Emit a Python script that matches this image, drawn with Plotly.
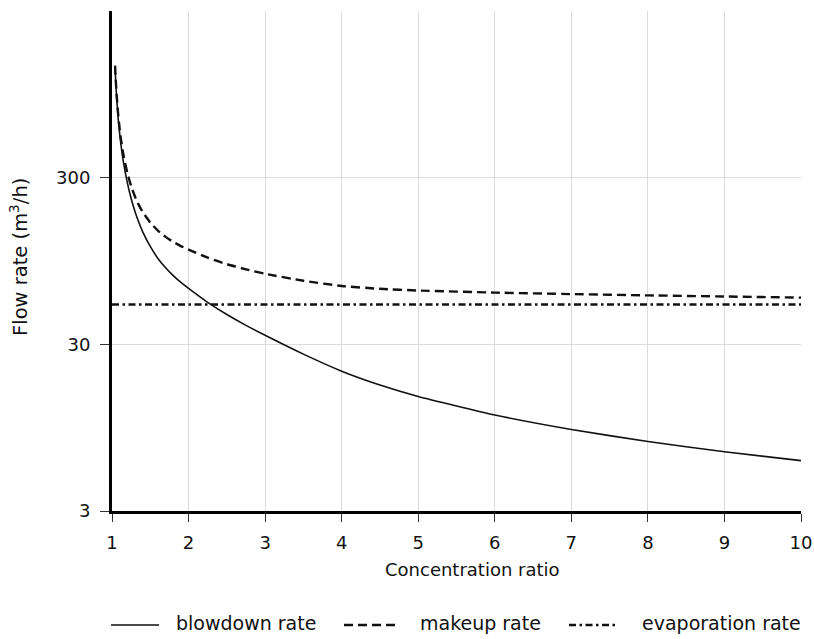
import plotly.graph_objects as go

# Cooling-tower water balance vs. cycles of concentration
conc_ratio = [1.04, 1.05, 1.06, 1.08, 1.1, 1.12, 1.15, 1.2, 1.25, 1.3, 1.35, 1.4,
              1.5, 1.6, 1.7, 1.8, 1.9, 2.0, 2.25, 2.5, 2.75, 3.0, 3.5, 4.0,
              4.5, 5.0, 6.0, 7.0, 8.0, 9.0, 10.0]
blowdown = [1375, 1100, 917, 688, 550, 460, 370, 280, 225, 188, 162, 142.5,
            116, 98.3, 86.4, 77.5, 70.6, 65, 53.6, 45.3, 39, 34, 26.2, 20.7,
            17.1, 14.6, 11.3, 9.25, 7.83, 6.8, 6.02]
makeup = [1410, 1136, 953, 725, 588, 499, 410, 321, 267, 231, 206, 187,
          161.5, 144.3, 132.4, 123.5, 116.6, 111, 99.4, 90.8, 84.5, 79.5, 72.2, 67.2,
          64.6, 63.1, 61.3, 60.05, 59.0, 58.1, 57.2]

evap_ratio = [1.0, 10.0]
evaporation = [52, 52]

x_ticks = [1, 2, 3, 4, 5, 6, 7, 8, 9, 10]
y_ticks = [3, 30, 300]
y_tick_text = ["3", "30", "300"]

series_names = ["blowdown rate", "makeup rate", "evaporation rate"]
series_dash = ["solid", "9px,5px", "7px,3.5px,2.5px,3.5px"]
series_width = [1.6, 2.4, 2.4]

FONT = "DejaVu Sans, Verdana, sans-serif"
INK = "#111111"
FS = 18

# plot-area geometry in pixels (used to place the legend row and titles)
W, H = 814, 639
L, R, T, B = 112, 13, 11, 128
PW, PH = W - L - R, H - T - B


def px_x(px):
    return (px - L) / PW


def px_y(py):
    return (H - B - py) / PH


fig = go.Figure()
for xs, ys, name, dash, width in [
    (conc_ratio, blowdown, series_names[0], series_dash[0], series_width[0]),
    (conc_ratio, makeup, series_names[1], series_dash[1], series_width[1]),
    (evap_ratio, evaporation, series_names[2], series_dash[2], series_width[2]),
]:
    fig.add_trace(go.Scatter(
        x=xs, y=ys, mode="lines", name=name, showlegend=False,
        line=dict(color=INK, width=width, dash=dash,
                  shape="spline" if len(xs) > 2 else "linear", smoothing=0.5),
    ))

# legend row: line sample + label for each series
legend_sample_px = [(111, 159), (344, 398), (569, 615)]
legend_text_px = [174, 418, 640]
legend_line_py, legend_text_py = 625, 623
shapes, annotations = [], []
for (x0, x1), tx, name, dash, width in zip(legend_sample_px, legend_text_px,
                                           series_names, series_dash, series_width):
    shapes.append(dict(type="line", xref="paper", yref="paper",
                       x0=px_x(x0), x1=px_x(x1), y0=px_y(legend_line_py), y1=px_y(legend_line_py),
                       line=dict(color=INK, width=width, dash=dash)))
    annotations.append(dict(text=name, xref="paper", yref="paper",
                            x=px_x(tx), y=px_y(legend_text_py), xanchor="left", yanchor="middle",
                            showarrow=False, font=dict(size=19, color=INK)))

# axis titles
annotations.append(dict(text="Concentration ratio", xref="paper", yref="paper",
                        x=px_x(383), y=px_y(569), xanchor="left", yanchor="middle",
                        showarrow=False, font=dict(size=FS, color=INK)))
annotations.append(dict(text="Flow rate (m<sup>3</sup>/h)", xref="paper", yref="paper",
                        x=px_x(19), y=px_y(257), xanchor="center", yanchor="middle",
                        textangle=-90, showarrow=False, font=dict(size=19.5, color=INK)))

fig.update_layout(
    width=W, height=H,
    margin=dict(l=L, r=R, t=T, b=B, autoexpand=False),
    paper_bgcolor="white", plot_bgcolor="white",
    font=dict(family=FONT, size=FS, color=INK),
    showlegend=False,
    shapes=shapes, annotations=annotations,
    xaxis=dict(
        range=[1, 10], tickvals=x_ticks, ticks="outside", ticklen=8, tickwidth=1,
        tickcolor="#333333", showgrid=True, gridcolor="#dcdcdc", gridwidth=1,
        showline=True, linecolor="black", linewidth=3, zeroline=False,
        tickfont=dict(size=FS), ticklabelstandoff=5,
    ),
    yaxis=dict(
        type="log", range=[0.47712, 3.47712], tickvals=y_ticks, ticktext=y_tick_text,
        ticks="outside", ticklen=9, tickwidth=1, tickcolor="#333333",
        showgrid=True, gridcolor="#dcdcdc", gridwidth=1,
        showline=True, linecolor="black", linewidth=3, zeroline=False,
        tickfont=dict(size=FS), ticklabelstandoff=6,
    ),
)

fig.write_html("out.html")
